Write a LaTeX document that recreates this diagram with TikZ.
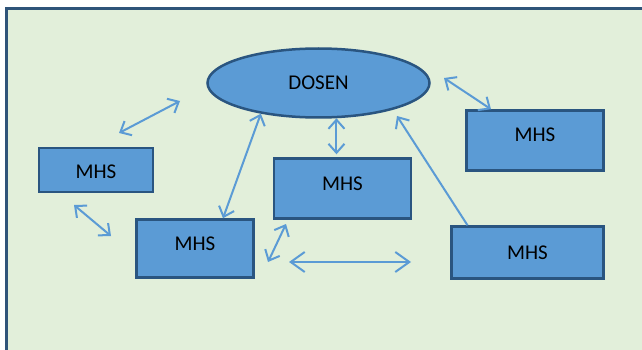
\documentclass[tikz,border=0pt]{standalone}
\usepackage{fontspec}
\setmainfont{Carlito}
\usepackage{xcolor}
\usetikzlibrary{arrows.meta,calc,shapes.geometric}

\definecolor{bggreen}{HTML}{E2EFDA}
\definecolor{frameline}{HTML}{2F5479}
\definecolor{boxblue}{HTML}{5B9BD5}
\definecolor{boxline}{HTML}{2A5580}

\begin{document}
\begin{tikzpicture}[x=1pt,y=-1pt,
        mhs/.style={draw=boxline,fill=boxblue,line width=2.5pt,inner sep=0pt,
                    font=\fontsize{21}{24}\selectfont},
        link/.style={draw=boxblue,line width=2pt,
                     >={Straight Barb[length=9pt,width=16pt]}},
        biglink/.style={link,>={Straight Barb[length=14pt,width=20pt]}}]
        \useasboundingbox (0,0) rectangle (642,350);
        % outline
        \draw[frameline,fill=bggreen,line width=3pt] (6,8.5) rectangle (660,370);
        % teacher and students
        \node[mhs,ellipse,minimum width=222,minimum height=69] (dosen) at (318.5,83) {DOSEN};
        \node[mhs,minimum width=114,minimum height=44,text height=17.5pt] (mhsA) at (96,170) {MHS};
        \node[mhs,minimum width=117,minimum height=58,text depth=9pt] (mhsB) at (195,248.5) {MHS};
        \node[mhs,minimum width=137,minimum height=60,text depth=10pt] (mhsC) at (342.5,188.5) {MHS};
        \node[mhs,minimum width=137,minimum height=60,text depth=12pt] (mhsD) at (535,140.5) {MHS};
        \node[mhs,minimum width=152,minimum height=52] (mhsE) at (527.5,252.5) {MHS};
        % loose arrow ends
        \coordinate (ulA) at (119,133);  \coordinate (ulB) at (180,101);
        \coordinate (llA) at (74,205);   \coordinate (llB) at (111,236);
        \coordinate (urA) at (444,78);
        \coordinate (rtip) at (397,116);
        \coordinate (smA) at (268,262);  \coordinate (smB) at (286,224);
        \coordinate (hzA) at (289,262);  \coordinate (hzB) at (411,262);
        % arrows
        \draw[link,<->] (ulA) -- (ulB);
        \draw[link,<->] (llA) -- (llB);
        \draw[link,<->] (dosen.208) -- ($(mhsB.north)+(28,0)$);
        \draw[link,<->] (dosen.-63) -- ++(0,36);
        \draw[link,<->] (urA) -- ($(mhsD.north)+(-44,0)$);
        \draw[link,->]  ($(mhsE.north)+(-60,0)$) -- (rtip);
        \draw[link,<->] (smA) -- (smB);
        \draw[biglink,<->] (hzA) -- (hzB);
\end{tikzpicture}
\end{document}
